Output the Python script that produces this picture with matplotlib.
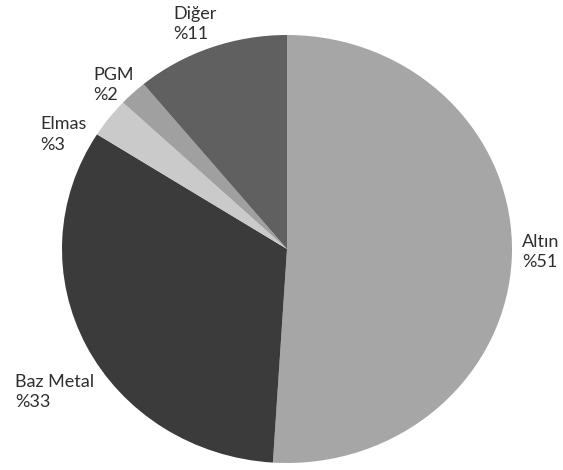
import matplotlib.pyplot as plt

# share of exploration budget by commodity (%)
labels = ["Altın", "Baz Metal", "Elmas", "PGM", "Diğer"]
shares = [51, 33, 3, 2, 11]
colors = ["#a6a6a6", "#3b3b3b", "#cacaca", "#a0a0a0", "#606060"]

# label anchor (left edge, vertical middle) in pie units
label_x = [1.045, -1.209, -1.098, -0.862, -0.507]
label_y = [-0.015, -0.668, 0.535, 0.766, 1.051]

plt.rcParams['font.family'] = ['Lato', 'DejaVu Sans']

fig = plt.figure(figsize=(5.63, 4.70), dpi=100)
ax = fig.add_axes([62/563, 7/470, 450/563, 428/470])

ax.pie(shares, colors=colors, startangle=90, counterclock=False,
       wedgeprops=dict(linewidth=0))
ax.set_aspect('auto')
ax.set_xlim(-1, 1)
ax.set_ylim(-1, 1)
ax.axis('off')

for name, val, x, y in zip(labels, shares, label_x, label_y):
    ax.text(x, y, f"{name}\n%{val}", ha='left', va='center',
            fontsize=13, color='#2e2e2e', linespacing=1.35,
            clip_on=False)

fig.savefig("out.png", dpi=100)
